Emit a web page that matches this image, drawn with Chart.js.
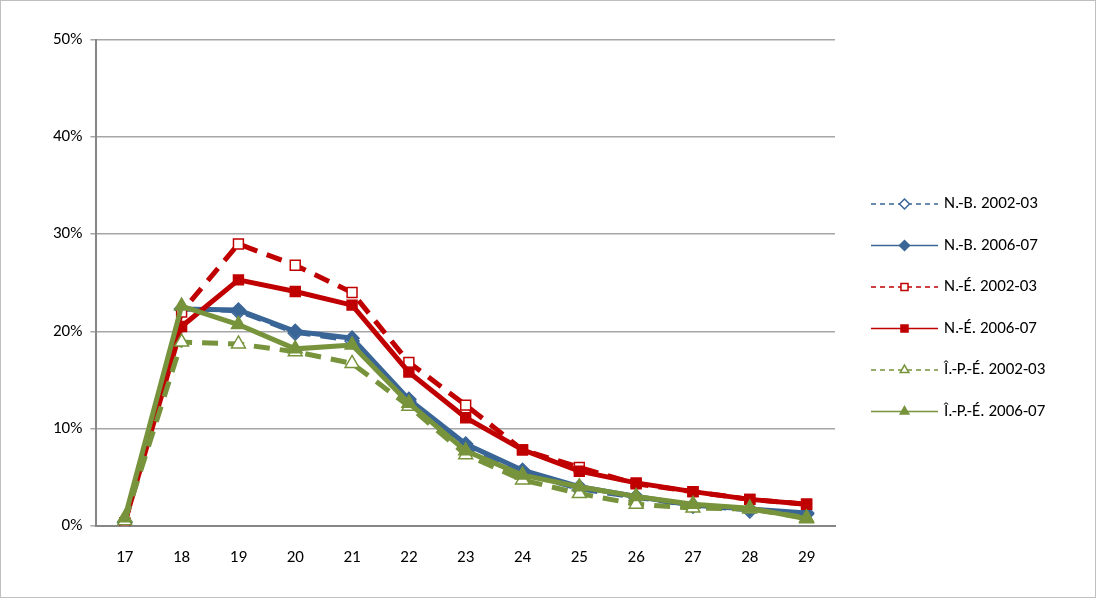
<!DOCTYPE html>
<html><head><meta charset="utf-8">
<script src="https://cdn.jsdelivr.net/npm/chart.js@4"></script>
<style>html,body{margin:0;padding:0;background:#fff}#w{position:relative;width:1094px;height:596px;border:1px solid #bfbfbf}</style>
</head><body><div id="w"><canvas id="c" width="1094" height="596"></canvas></div>
<script>
const categories=["17","18","19","20","21","22","23","24","25","26","27","28","29"];
const seriesNames=["N.-B. 2002-03","N.-B. 2006-07","N.-É. 2002-03","N.-É. 2006-07","Î.-P.-É. 2002-03","Î.-P.-É. 2006-07"];
const nb0203=[0.3,22.3,22.0,19.8,19.0,12.8,8.0,5.3,3.7,2.8,2.0,1.5,1.2];
const nb0607=[0.4,22.3,22.2,20.0,19.3,13.0,8.4,5.7,4.0,3.0,2.1,1.7,1.3];
const ne0203=[0.2,22.0,29.0,26.8,24.0,16.8,12.4,7.8,6.0,4.3,3.5,2.7,2.2];
const ne0607=[0.3,20.5,25.3,24.1,22.7,15.8,11.1,7.8,5.6,4.4,3.5,2.7,2.2];
const ipe0203=[0.5,18.9,18.7,17.9,16.7,12.3,7.3,4.7,3.3,2.2,1.8,1.7,0.8];
const ipe0607=[0.8,22.6,20.7,18.2,18.6,12.6,7.7,5.2,4.0,3.0,2.2,1.8,0.7];
const yTicks=[0,10,20,30,40,50];
const B='#3A6597',R='#C00000',G='#77933C';
function ds(label,data,col,dashed,ps,filled,w,order){return{label,data,order,borderColor:col,backgroundColor:filled?col:'#fff',borderWidth:w,borderDash:dashed?[16,10]:[],pointStyle:ps,pointRadius:ps==='triangle'?8:7,pointBorderColor:col,pointBorderWidth:1.5,pointBackgroundColor:filled?col:'#fff',tension:0}}
const sets=[ds(seriesNames[0],nb0203,B,true,'rectRot',false,3,6),ds(seriesNames[1],nb0607,B,false,'rectRot',true,5,5),
ds(seriesNames[2],ne0203,R,true,'rect',false,5,4),ds(seriesNames[3],ne0607,R,false,'rect',true,5,3),
ds(seriesNames[4],ipe0203,G,true,'triangle',false,5,2),ds(seriesNames[5],ipe0607,G,false,'triangle',true,5,1)];
const F='Calibri, Carlito, "Liberation Sans", sans-serif';
const legendPlugin={id:'lg',afterDraw(ch){const ctx=ch.ctx;ctx.save();ch.data.datasets.forEach((d,i)=>{const y=203+i*41.5,x0=870,x1=937;ctx.strokeStyle=d.borderColor;ctx.lineWidth=1.5;ctx.setLineDash(d.borderDash.length?[5,4]:[]);ctx.beginPath();ctx.moveTo(x0,y);ctx.lineTo(x1,y);ctx.stroke();ctx.setLineDash([]);ctx.fillStyle=d.pointBackgroundColor;ctx.strokeStyle=d.borderColor;Chart.helpers.drawPoint(ctx,{pointStyle:d.pointStyle,radius:5,borderWidth:1.2},(x0+x1)/2,y);ctx.fillStyle='#000';ctx.font='17px '+F;ctx.textBaseline='middle';ctx.fillText(d.label,x1+6,y);});ctx.restore();}};
new Chart(document.getElementById('c'),{type:'line',data:{labels:categories,datasets:sets},plugins:[legendPlugin],
options:{responsive:false,animation:false,layout:{padding:{left:44,right:260,top:39,bottom:15}},
plugins:{legend:{display:false},tooltip:{enabled:false}},
scales:{x:{offset:true,grid:{display:false},border:{color:'#868686',width:2},ticks:{color:'#000',font:{size:17,family:F},padding:14}},
y:{min:0,max:50,afterBuildTicks(s){s.ticks=yTicks.map(v=>({value:v}))},grid:{color:'#a6a6a6',lineWidth:1.5,tickLength:6},border:{color:'#868686',width:2},ticks:{color:'#000',font:{size:17,family:F},padding:8,callback:v=>v+'%'}}}}});
</script></body></html>
